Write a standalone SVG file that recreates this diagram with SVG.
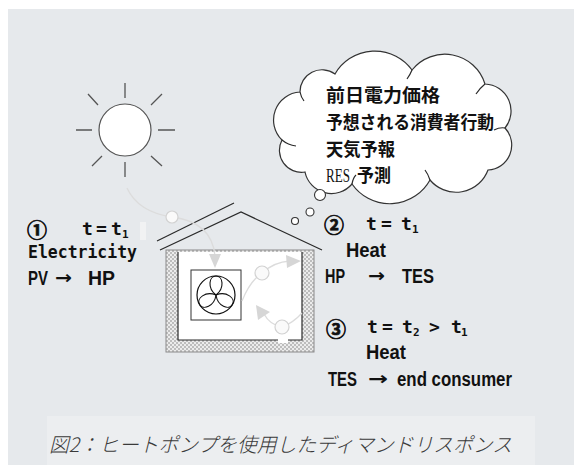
<svg xmlns="http://www.w3.org/2000/svg" width="574" height="465" viewBox="0 0 574 465">
  <defs>
    <style>
      .ln { fill: none; stroke: #555; stroke-width: 1.3; }
      .dk { fill: none; stroke: #2a2a2a; stroke-width: 1.2; }
      .flow { fill: none; stroke: #dcdcdc; stroke-width: 1.3; }
      .flowhead { fill: #d6d6d6; }
      .bead { fill: #fafafa; stroke: #d2d2d2; stroke-width: 1.2; }
      .bubble { fill: #fff; stroke: #333; stroke-width: 1.1; }
      .jp { font-family: "Noto Sans CJK JP", sans-serif; font-weight: bold; font-size: 18px; fill: #111; }
      .lat { font-family: "Liberation Sans", "Noto Sans CJK JP", sans-serif; font-weight: bold; font-size: 20px; fill: #111; }
      .arr { font-family: "DejaVu Sans", sans-serif; font-weight: bold; font-size: 18px; fill: #111; }
      .mono { font-family: "DejaVu Sans Mono", "Noto Sans CJK JP", monospace; font-weight: bold; font-size: 18px; fill: #111; }
      .num { font-family: "Noto Sans CJK JP", sans-serif; font-weight: bold; font-size: 20px; fill: #111; stroke: #111; stroke-width: 0.7; }
      .sub { font-family: "DejaVu Sans Mono", monospace; font-weight: bold; font-size: 11px; fill: #111; }
      .cap { font-family: "Noto Sans CJK JP", sans-serif; font-weight: 300; font-style: italic; font-size: 20px; fill: #3a3a3a; }
    </style>
    <pattern id="insul" width="4" height="4" patternUnits="userSpaceOnUse">
      <rect width="4" height="4" fill="#bdbdbd"/>
      <rect width="2" height="2" fill="#ececec"/>
      <rect x="2" y="2" width="2" height="2" fill="#ececec"/>
    </pattern>
    <path id="petal" d="M0,0 C-9,-7 -7,-19 0,-19 C7,-19 9,-7 0,0 Z"/>
  </defs>

  <!-- background panel -->
  <rect x="0" y="0" width="574" height="465" fill="#ffffff"/>
  <rect x="8" y="9" width="566" height="456" fill="#e6e9ec"/>
  <rect x="47" y="416" width="488" height="49" fill="#eceef0"/>

  <!-- sun -->
  <g id="sun">
    <circle cx="125" cy="130" r="26" fill="#fff" stroke="#555" stroke-width="1.2"/>
    <path class="ln" d="M125,83 V98 M125,162 V177 M76,130 H92 M158,130 H175 M88,94 L98,105 M162,94 L151,105 M92,166 L102,156 M162,166 L151,156"/>
  </g>

  <!-- house with roof panel, insulated wall and heat pump unit -->
  <g id="house">
    <path class="dk" d="M160,250 L241,212 L322,250"/>
    <path class="dk" d="M157,241 L234,203"/>
    <rect x="166" y="250" width="148" height="102" fill="url(#insul)" stroke="#8a8a8a" stroke-width="1"/>
    <rect x="178" y="252" width="124" height="88" fill="#fff"/>
    <path class="dk" d="M178,252 V340 H302 V252"/>
    <rect x="278" y="338" width="10" height="5" fill="#fff"/>
  </g>

  <g id="heat-pump">
    <rect x="191" y="270" width="50" height="50" fill="#fff" stroke="#333" stroke-width="1"/>
    <circle cx="216" cy="295" r="19" fill="none" stroke="#111" stroke-width="1.2"/>
    <g transform="translate(216,295)" fill="none" stroke="#111" stroke-width="1.1">
      <use href="#petal"/>
      <use href="#petal" transform="rotate(120)"/>
      <use href="#petal" transform="rotate(240)"/>
    </g>
  </g>

  <!-- energy flows -->
  <g id="connectors">
    <path class="flow" d="M127,188 Q138,212 172,217 Q212,222 215,256"/>
    <circle class="bead" cx="172" cy="217" r="6"/>
    <path class="flowhead" d="M215,268 L209,254 L221,254 Z"/>

    <path class="flow" d="M242,301 Q250,281 262,273 Q274,262 290,261"/>
    <circle class="bead" cx="262" cy="273" r="7"/>
    <path class="flowhead" d="M301,261 L286,255 L287,268 Z"/>

    <path class="flow" d="M302,313 Q293,323 282,327 Q270,325 264,314"/>
    <circle class="bead" cx="282" cy="327" r="7"/>
    <path class="flowhead" d="M256,305 L258,320 L270,312 Z"/>
  </g>

  <!-- thought cloud -->
  <g id="forecast-cloud">
    <path d="M282,140 A28,28 0 0 1 300,92 A22,22 0 0 1 335,74 A46,46 0 0 1 412,70 A42,42 0 0 1 485,84 A27,27 0 0 1 505,128 A25,25 0 0 1 488,170 A34,34 0 0 1 430,180 A46,46 0 0 1 352,184 A27,27 0 0 1 305,172 A22,22 0 0 1 282,140 Z" fill="#fff" stroke="#333" stroke-width="1.2"/>
    <path class="dk" d="M282,140 Q288,145 296,146 M300,92 Q301,97 304,101 M412,70 Q410,75 407,79 M485,84 Q480,88 476,94 M505,128 Q500,127 494,130 M430,180 Q428,174 425,170 M352,184 Q353,178 356,175"/>
    <text class="jp" x="326" y="102" textLength="114" lengthAdjust="spacingAndGlyphs">前日電力価格</text>
    <text class="jp" x="326" y="129" textLength="168" lengthAdjust="spacingAndGlyphs">予想される消費者行動</text>
    <text class="jp" x="326" y="156" textLength="69" lengthAdjust="spacingAndGlyphs">天気予報</text>
    <text x="326" y="182" font-family="Liberation Serif, serif" font-size="18" fill="#111" textLength="24" lengthAdjust="spacingAndGlyphs">RES</text>
    <text class="jp" x="357" y="182" textLength="34" lengthAdjust="spacingAndGlyphs">予測</text>
    <circle class="bubble" cx="320" cy="195" r="5.5"/>
    <circle class="bubble" cx="310" cy="212" r="4"/>
    <circle class="bubble" cx="295" cy="221" r="3.5"/>
  </g>

  <!-- step 1 -->
  <g id="step1">
    <rect x="140" y="222" width="6" height="18" fill="#f1f2f3"/>
    <text class="num" x="27" y="238">①</text>
    <text class="mono" x="82" y="235">t</text>
    <text class="mono" x="96" y="235">=</text>
    <text class="mono" x="111" y="235">t</text>
    <text class="sub" x="122" y="238">1</text>
    <text class="mono" x="28" y="258" textLength="109" lengthAdjust="spacingAndGlyphs">Electricity</text>
    <text class="lat" x="28" y="285" textLength="20" lengthAdjust="spacingAndGlyphs">PV</text>
    <text class="arr" x="55" y="284" textLength="17" lengthAdjust="spacingAndGlyphs">→</text>
    <text class="lat" x="88" y="285" textLength="27" lengthAdjust="spacingAndGlyphs">HP</text>
  </g>

  <!-- step 2 -->
  <g id="step2">
    <text class="num" x="324" y="233">②</text>
    <text class="mono" x="366" y="230">t</text>
    <text class="mono" x="381" y="230">=</text>
    <text class="mono" x="401" y="230">t</text>
    <text class="sub" x="412" y="233">1</text>
    <text class="lat" x="346" y="257" textLength="40" lengthAdjust="spacingAndGlyphs">Heat</text>
    <text class="lat" x="325" y="283" textLength="20" lengthAdjust="spacingAndGlyphs">HP</text>
    <text class="arr" x="368" y="282" textLength="17" lengthAdjust="spacingAndGlyphs">→</text>
    <text class="lat" x="402" y="283" textLength="32" lengthAdjust="spacingAndGlyphs">TES</text>
  </g>

  <!-- step 3 -->
  <g id="step3">
    <text class="num" x="326" y="337">③</text>
    <text class="mono" x="367" y="333">t</text>
    <text class="mono" x="382" y="333">=</text>
    <text class="mono" x="402" y="333">t</text>
    <text class="sub" x="413" y="336">2</text>
    <text class="mono" x="429" y="333">&gt;</text>
    <text class="mono" x="451" y="333">t</text>
    <text class="sub" x="461" y="336">1</text>
    <text class="lat" x="366" y="359" textLength="40" lengthAdjust="spacingAndGlyphs">Heat</text>
    <text class="lat" x="328" y="386" textLength="29" lengthAdjust="spacingAndGlyphs">TES</text>
    <text class="arr" x="368" y="385" textLength="20" lengthAdjust="spacingAndGlyphs">→</text>
    <text class="lat" x="397" y="386" textLength="115" lengthAdjust="spacingAndGlyphs">end consumer</text>
  </g>

  <!-- caption -->
  <text class="cap" x="49" y="452" textLength="463" lengthAdjust="spacingAndGlyphs">図2：ヒートポンプを使用したディマンドリスポンス</text>
</svg>
